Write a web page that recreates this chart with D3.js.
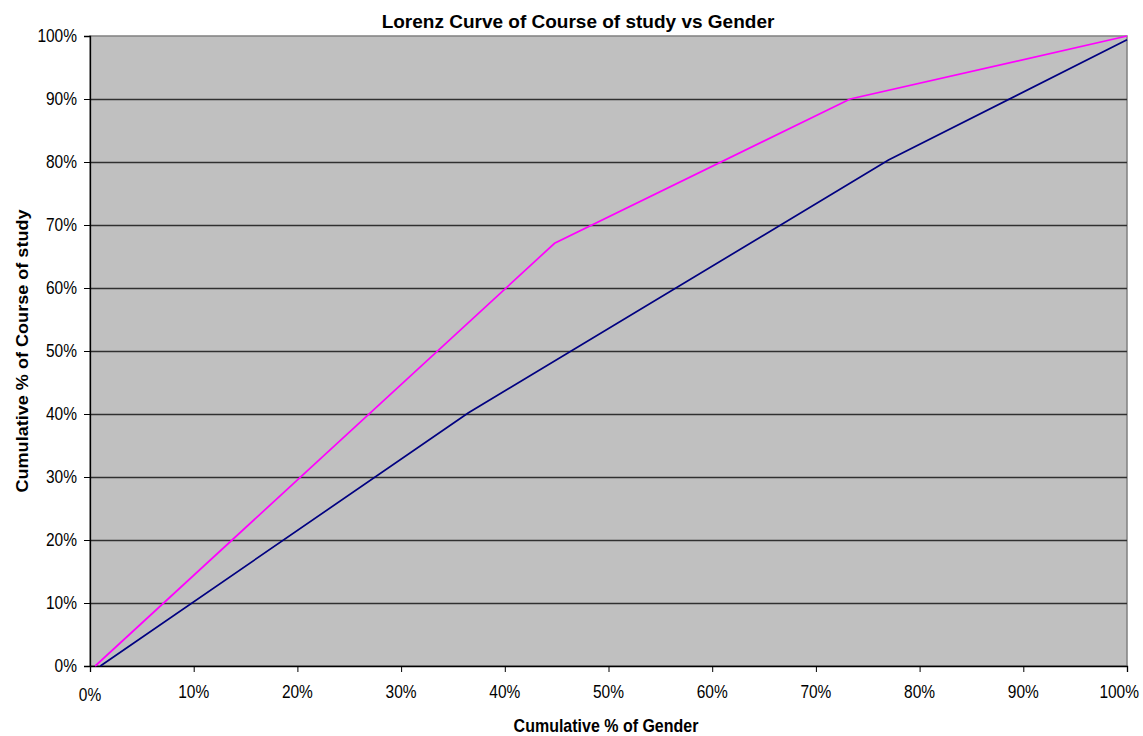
<!DOCTYPE html>
<html>
<head>
<meta charset="utf-8">
<script src="https://cdn.jsdelivr.net/npm/d3@7"></script>
<style>
  html, body { margin: 0; padding: 0; background: #ffffff; }
  svg { display: block; font-family: "Liberation Sans", Arial, sans-serif; }
</style>
</head>
<body>
<svg id="chart" width="1143" height="736"></svg>
<script>
// Lorenz curve data: cumulative share of gender (x) vs cumulative share of course of study (y)
const courseX = [0.005, 0.448, 0.733, 1.0];
const courseY = [0.0, 0.671, 0.90, 1.0];
const genderX = [0.010, 0.365, 0.770, 1.0];
const genderY = [0.0, 0.402, 0.803, 0.994];
const xTicks = [0, 0.1, 0.2, 0.3, 0.4, 0.5, 0.6, 0.7, 0.8, 0.9, 1.0];
const yTicks = [0, 0.1, 0.2, 0.3, 0.4, 0.5, 0.6, 0.7, 0.8, 0.9, 1.0];

const titleText = "Lorenz Curve of Course of study vs Gender";
const xTitle = "Cumulative % of Gender";
const yTitle = "Cumulative % of Course of study";

const svg = d3.select("#chart");
const plot = { left: 90, right: 1127, top: 36, bottom: 666 };
const stretch = 1.13; // text is drawn slightly taller than wide

const x = d3.scaleLinear().domain([0, 1]).range([plot.left, plot.right]);
const y = d3.scaleLinear().domain([0, 1]).range([plot.bottom, plot.top]);
const pct = d3.format(".0%");

// plot background
svg.append("rect")
  .attr("x", plot.left).attr("y", plot.top)
  .attr("width", plot.right - plot.left).attr("height", plot.bottom - plot.top)
  .attr("fill", "#c0c0c0")
  .attr("stroke", "#808080").attr("stroke-width", 1.5);

// horizontal gridlines
svg.append("g")
  .selectAll("line")
  .data(yTicks.filter(d => d > 0 && d < 1))
  .join("line")
  .attr("x1", plot.left).attr("x2", plot.right)
  .attr("y1", d => Math.round(y(d)) + 0.5).attr("y2", d => Math.round(y(d)) + 0.5)
  .attr("stroke", "#303030").attr("stroke-width", 1.4);

// axes (ticks and domain lines; labels drawn below)
const yAxis = svg.append("g")
  .attr("transform", `translate(${plot.left},0)`)
  .call(d3.axisLeft(y).tickValues(yTicks).tickFormat("").tickSize(6));
const xAxis = svg.append("g")
  .attr("transform", `translate(0,${plot.bottom})`)
  .call(d3.axisBottom(x).tickValues(xTicks).tickFormat("").tickSize(6));
[yAxis, xAxis].forEach(g => {
  g.select(".domain").attr("stroke", "#000").attr("stroke-width", 1.3);
  g.selectAll(".tick line").attr("stroke", "#000");
});

// y tick labels
svg.append("g")
  .selectAll("text")
  .data(yTicks)
  .join("text")
  .attr("transform", d => `translate(${plot.left - 13},${y(d) + 6}) scale(1,${stretch})`)
  .attr("text-anchor", "end")
  .style("font-size", "15.5px")
  .text(d => pct(d));

// x tick labels (first label sits a little lower, last one kept inside the frame)
svg.append("g")
  .selectAll("text")
  .data(xTicks)
  .join("text")
  .attr("transform", (d, i) => {
    const lx = i === xTicks.length - 1 ? 1139 : x(d);
    const ly = i === 0 ? 701 : 697.5;
    return `translate(${lx},${ly}) scale(1,${stretch})`;
  })
  .attr("text-anchor", (d, i) => i === xTicks.length - 1 ? "end" : "middle")
  .style("font-size", "15.5px")
  .text(d => pct(d));

// series
const line = d3.line().x(d => x(d[0])).y(d => y(d[1]));
const series = [
  { xs: courseX, ys: courseY, color: "#ff00ff" },
  { xs: genderX, ys: genderY, color: "#000080" }
];
svg.append("g")
  .selectAll("path")
  .data(series)
  .join("path")
  .attr("d", s => line(s.xs.map((v, i) => [v, s.ys[i]])))
  .attr("fill", "none")
  .attr("stroke", s => s.color)
  .attr("stroke-width", 1.7);

// titles
svg.append("text")
  .attr("transform", "translate(578,28)")
  .attr("text-anchor", "middle")
  .style("font-size", "19px").style("font-weight", "bold")
  .text(titleText);

svg.append("text")
  .attr("transform", `translate(606,731.5) scale(1,${stretch})`)
  .attr("text-anchor", "middle")
  .style("font-size", "16px").style("font-weight", "bold")
  .text(xTitle);

svg.append("text")
  .attr("transform", `translate(28,351) rotate(-90) scale(${stretch},1)`)
  .attr("text-anchor", "middle")
  .style("font-size", "16px").style("font-weight", "bold")
  .text(yTitle);
</script>
</body>
</html>
